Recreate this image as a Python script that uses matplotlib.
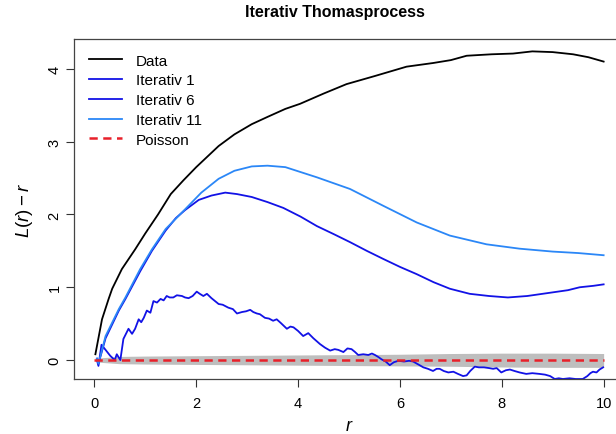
import matplotlib
matplotlib.use('Agg')
import matplotlib.pyplot as plt

plt.rcParams['font.family'] = ['Liberation Sans', 'DejaVu Sans']
plt.rcParams['mathtext.fontset'] = 'custom'
plt.rcParams['mathtext.rm'] = 'Liberation Sans'
plt.rcParams['mathtext.it'] = 'Liberation Sans:italic'

# L(r) - r
r_data = [0.02, 0.15, 0.28, 0.35, 0.54, 0.8, 1.0, 1.25, 1.5, 1.75, 2.0, 2.44, 2.75, 3.09, 3.4,
          3.75, 4.04, 4.5, 4.95, 5.5, 6.13, 6.65, 7.0, 7.31, 7.8, 8.22, 8.6, 9.0, 9.4, 9.7, 10.0]
data = [0.08, 0.56, 0.84, 0.98, 1.25, 1.52, 1.74, 2.0, 2.28, 2.47, 2.65, 2.94, 3.1, 3.24, 3.34,
        3.45, 3.52, 3.66, 3.79, 3.9, 4.03, 4.08, 4.12, 4.18, 4.2, 4.21, 4.24, 4.23, 4.2, 4.16, 4.10]

r_it11 = [0.05, 0.08, 0.22, 0.48, 0.61, 0.9, 1.13, 1.4, 1.78, 2.1, 2.44, 2.75, 3.09, 3.4, 3.75,
          4.37, 5.02, 5.67, 6.33, 6.98, 7.7, 8.35, 9.0, 9.5, 10.0]
it11 = [0.02, -0.05, 0.33, 0.7, 0.86, 1.25, 1.52, 1.8, 2.07, 2.3, 2.49, 2.6, 2.66, 2.67, 2.65,
        2.51, 2.35, 2.12, 1.89, 1.71, 1.59, 1.53, 1.49, 1.47, 1.44]

r_it6 = [0.05, 0.08, 0.22, 0.48, 0.61, 0.9, 1.13, 1.4, 1.6, 1.78, 2.05, 2.3, 2.57, 2.8, 3.09,
         3.4, 3.71, 4.05, 4.37, 4.7, 5.02, 5.35, 5.67, 6.0, 6.33, 6.66, 6.98, 7.37, 7.75, 8.12,
         8.5, 9.0, 9.3, 9.53, 9.8, 10.0]
it6 = [0.02, -0.05, 0.3, 0.68, 0.84, 1.22, 1.5, 1.78, 1.95, 2.06, 2.2, 2.26, 2.3, 2.28, 2.24,
       2.17, 2.09, 1.97, 1.84, 1.73, 1.62, 1.5, 1.39, 1.28, 1.18, 1.07, 0.98, 0.91, 0.88, 0.86,
       0.88, 0.93, 0.96, 1.0, 1.02, 1.04]

r_it1 = [0.05, 0.08, 0.14, 0.22, 0.31, 0.40, 0.44, 0.51, 0.57, 0.62, 0.67, 0.74, 0.8, 0.87,
         0.92, 0.97, 1.03, 1.1, 1.16, 1.23, 1.3, 1.36, 1.42, 1.48, 1.55, 1.62, 1.72, 1.78, 1.85,
         1.93, 2.01, 2.07, 2.14, 2.21, 2.3, 2.44, 2.52, 2.63, 2.72, 2.8, 2.9, 2.98, 3.06, 3.12,
         3.19, 3.25, 3.35, 3.43, 3.51, 3.58, 3.66, 3.78, 3.85, 3.91, 4.0, 4.1, 4.2, 4.3, 4.43,
         4.53, 4.63, 4.72, 4.79, 4.89, 4.97, 5.05, 5.12, 5.18, 5.28, 5.38, 5.45, 5.51, 5.58,
         5.64, 5.72, 5.8, 5.88, 5.97, 6.08, 6.18, 6.26, 6.36, 6.46, 6.55, 6.65, 6.72, 6.78,
         6.86, 6.95, 7.05, 7.14, 7.24, 7.31, 7.38, 7.47, 7.55, 7.65, 7.75, 7.83, 7.9, 7.99,
         8.08, 8.16, 8.25, 8.35, 8.48, 8.6, 8.74, 8.85, 8.95, 9.04, 9.12, 9.2, 9.33, 9.45,
         9.59, 9.68, 9.74, 9.79, 9.86, 9.92, 9.99]
it1 = [0.0, -0.08, 0.21, 0.14, 0.06, 0.0, 0.08, 0.0, 0.29, 0.36, 0.43, 0.36, 0.43, 0.56,
       0.52, 0.58, 0.68, 0.65, 0.81, 0.79, 0.84, 0.82, 0.88, 0.86, 0.86, 0.89, 0.88, 0.86, 0.85,
       0.88, 0.94, 0.91, 0.88, 0.91, 0.85, 0.77, 0.76, 0.72, 0.7, 0.64, 0.66, 0.67, 0.69, 0.66,
       0.64, 0.63, 0.58, 0.57, 0.54, 0.56, 0.51, 0.43, 0.46, 0.45, 0.4, 0.33, 0.37, 0.3, 0.22,
       0.17, 0.13, 0.15, 0.14, 0.11, 0.16, 0.15, 0.11, 0.07, 0.08, 0.07, 0.09, 0.07, 0.04,
       0.01, -0.02, -0.07, -0.03, -0.01, -0.02, -0.01, -0.02, -0.06, -0.1, -0.12, -0.15, -0.12,
       -0.12, -0.15, -0.17, -0.16, -0.19, -0.22, -0.21, -0.15, -0.09, -0.1, -0.1, -0.11, -0.12,
       -0.11, -0.17, -0.14, -0.13, -0.15, -0.17, -0.19, -0.18, -0.19, -0.2, -0.22, -0.26, -0.25,
       -0.26, -0.25, -0.26, -0.26, -0.22, -0.18, -0.16, -0.17, -0.13, -0.10]

r_env = [0.0, 0.1, 0.5, 1.0, 2.0, 3.0, 4.0, 5.0, 6.0, 7.0, 8.0, 9.0, 10.0]
env_hi = [0.0, 0.03, 0.05, 0.055, 0.06, 0.065, 0.07, 0.075, 0.08, 0.09, 0.095, 0.095, 0.09]
env_lo = [0.0, -0.03, -0.05, -0.055, -0.06, -0.065, -0.07, -0.075, -0.08, -0.085, -0.095, -0.1, -0.1]

r_pois = [0.0, 10.0]
pois = [0.0, 0.0]

fig = plt.figure(figsize=(6.16, 4.35), dpi=100)
ax = fig.add_axes([74 / 616, 55 / 435, 550 / 616, 340 / 435])

ax.fill_between(r_env, env_lo, env_hi, color='#BEBEBE', lw=0)
ax.plot(r_pois, pois, color='#E8202A', lw=1.8, dashes=(3.3, 2.2), zorder=5)
ax.plot(r_data, data, color='black', lw=1.3, label='Data')
ax.plot(r_it1, it1, color='#1212E6', lw=1.3, label='Iterativ 1')
ax.plot(r_it6, it6, color='#1212E6', lw=1.3, label='Iterativ 6')
ax.plot(r_it11, it11, color='#2B87F7', lw=1.3, label='Iterativ 11')
ax.plot([], [], color='#E8202A', lw=1.8, dashes=(3.3, 2.2), label='Poisson')

ax.set_xlim(-0.4, 10.4)
ax.set_ylim(-0.26, 4.41)
ax.set_xticks([0, 2, 4, 6, 8, 10])
ax.set_yticks([0, 1, 2, 3, 4])
ax.tick_params(labelsize=10.5, length=6, width=0.8, color='#333333')
ax.tick_params(axis='x', pad=6)
ax.tick_params(axis='y', pad=3)
plt.setp(ax.get_yticklabels(), rotation=90, va='center')
for s in ax.spines.values():
    s.set_color('#444444')
    s.set_linewidth(0.9)

ax.set_xlabel('$r$', fontsize=13, labelpad=5)
ax.set_ylabel('$L(r) - r$', fontsize=13.5, labelpad=9)

ax.legend(loc='upper left', bbox_to_anchor=(0.0, 1.0), frameon=False, fontsize=11,
          handlelength=2.2, handletextpad=0.9, labelspacing=0.38, borderaxespad=0.55)

fig.text(335 / 616, 1 - 13 / 435, 'Iterativ Thomasprocess', ha='center', va='center',
         fontsize=11.5, fontweight='bold')

fig.savefig('out.png', dpi=100)
